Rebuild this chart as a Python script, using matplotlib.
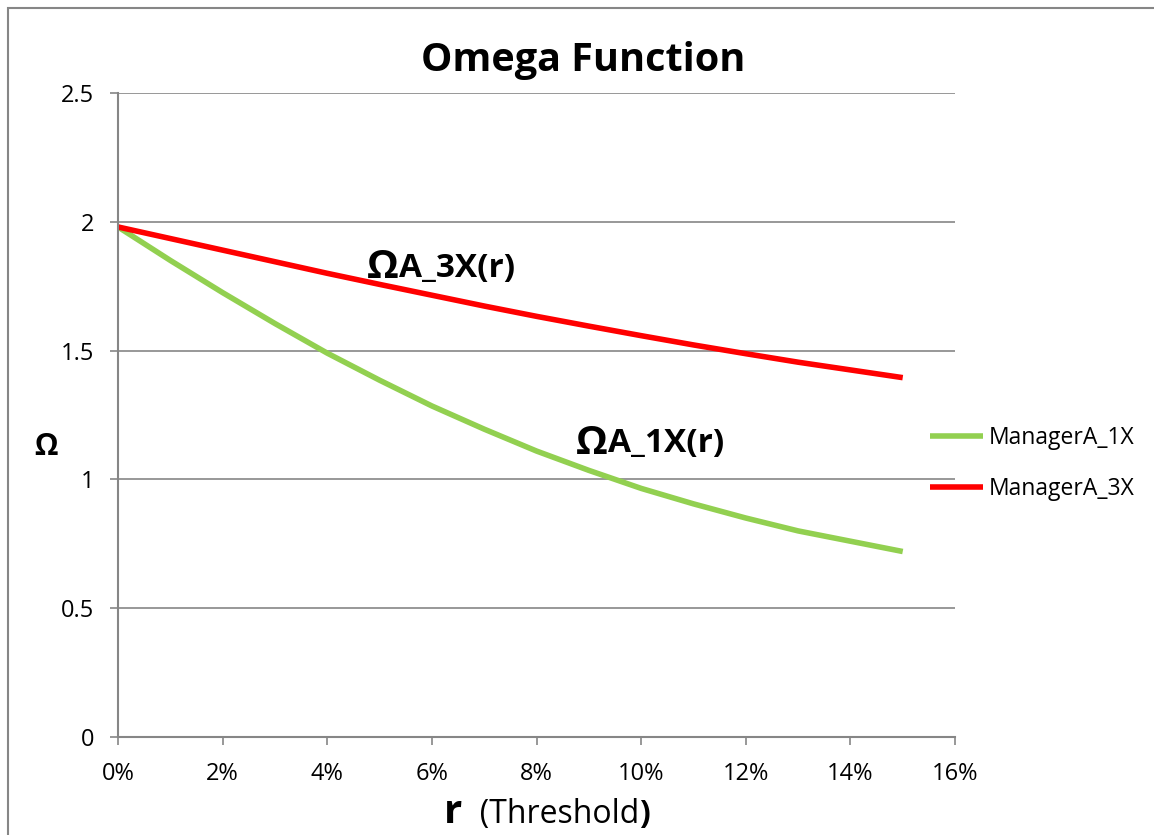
import matplotlib
matplotlib.use("Agg")
import matplotlib.pyplot as plt
from matplotlib.patches import Rectangle
from matplotlib.ticker import FuncFormatter

# threshold r in percent
r_pct = [0, 1, 2, 3, 4, 5, 6, 7, 8, 9, 10, 11, 12, 13, 14, 15]
# Omega values
omega_1x = [1.98, 1.85, 1.725, 1.605, 1.49, 1.385, 1.285, 1.195, 1.11, 1.035,
            0.965, 0.905, 0.85, 0.80, 0.76, 0.72]
omega_3x = [1.98, 1.935, 1.89, 1.845, 1.80, 1.757, 1.715, 1.673, 1.633, 1.595,
            1.558, 1.522, 1.488, 1.455, 1.425, 1.395]
series_names = ["ManagerA_1X", "ManagerA_3X"]
x_ticks = [0, 2, 4, 6, 8, 10, 12, 14, 16]
y_ticks = [0, 0.5, 1, 1.5, 2, 2.5]

plt.rcParams['font.family'] = ['Open Sans', 'DejaVu Sans']
plt.rcParams['xtick.labelsize'] = 17
plt.rcParams['ytick.labelsize'] = 17

green = '#92D050'
red = '#FF0000'
grey = '#868686'

fig = plt.figure(figsize=(11.54, 8.35), dpi=100)
ax = fig.add_axes([0.1023, 0.1174, 0.7253, 0.7712])

ax.plot(r_pct, omega_1x, color=green, lw=4, label=series_names[0],
        solid_capstyle='butt', solid_joinstyle='round')
ax.plot(r_pct, omega_3x, color=red, lw=4, label=series_names[1],
        solid_capstyle='butt', solid_joinstyle='round')

ax.set_xlim(0, 16)
ax.set_ylim(0, 2.5)
ax.set_xticks(x_ticks)
ax.set_yticks(y_ticks)
ax.xaxis.set_major_formatter(FuncFormatter(lambda v, p: f"{v:.0f}%"))
ax.yaxis.set_major_formatter(FuncFormatter(lambda v, p: f"{v:g}"))
ax.tick_params(axis='both', direction='out', length=6, width=1.2, color=grey)
ax.tick_params(axis='y', pad=11)
ax.tick_params(axis='x', pad=12)
ax.grid(axis='y', color=grey, lw=1.2)
ax.set_axisbelow(True)
for s in ['top', 'right']:
    ax.spines[s].set_visible(False)
for s in ['left', 'bottom']:
    ax.spines[s].set_color(grey)
    ax.spines[s].set_linewidth(1.5)

# title and axis labels
fig.text(0.505, 0.928, "Omega Function", ha='center', va='center',
         fontsize=28.5, fontweight='bold')
fig.text(0.0395, 0.4647, "Ω", ha='center', va='center', fontsize=21.5, fontweight='bold')

t1 = fig.text(0.385, 0.004, "r", ha='left', va='bottom', fontsize=29, fontweight='bold')
t2 = ax.annotate("  (Threshold", xy=(1, 0.02), xycoords=t1, ha='left', va='bottom',
                 fontsize=23, annotation_clip=False)
ax.annotate(")", xy=(1, 0), xycoords=t2, ha='left', va='bottom',
            fontsize=23, fontweight='bold', annotation_clip=False)

# curve labels
a1 = ax.text(4.76, 1.78, "Ω", fontsize=29, fontweight='bold', va='baseline')
ax.annotate("A_3X(r)", xy=(1, 0.07), xycoords=a1, fontsize=24, fontweight='bold',
            va='bottom', ha='left')
a2 = ax.text(8.76, 1.10, "Ω", fontsize=29, fontweight='bold', va='baseline')
ax.annotate("A_1X(r)", xy=(1, 0.07), xycoords=a2, fontsize=24, fontweight='bold',
            va='bottom', ha='left')

fig.legend(loc='center left', bbox_to_anchor=(0.788, 0.445), frameon=False,
           fontsize=16.5, handlelength=2.3, handletextpad=0.25, labelspacing=1.2)

# outer chart border
fig.patches.append(Rectangle((8 / 1154, -0.1), 1.2, 1.1 - 8 / 835,
                             transform=fig.transFigure, fill=False,
                             edgecolor=grey, lw=1.5))

fig.savefig("out.png", dpi=100, facecolor='white')
